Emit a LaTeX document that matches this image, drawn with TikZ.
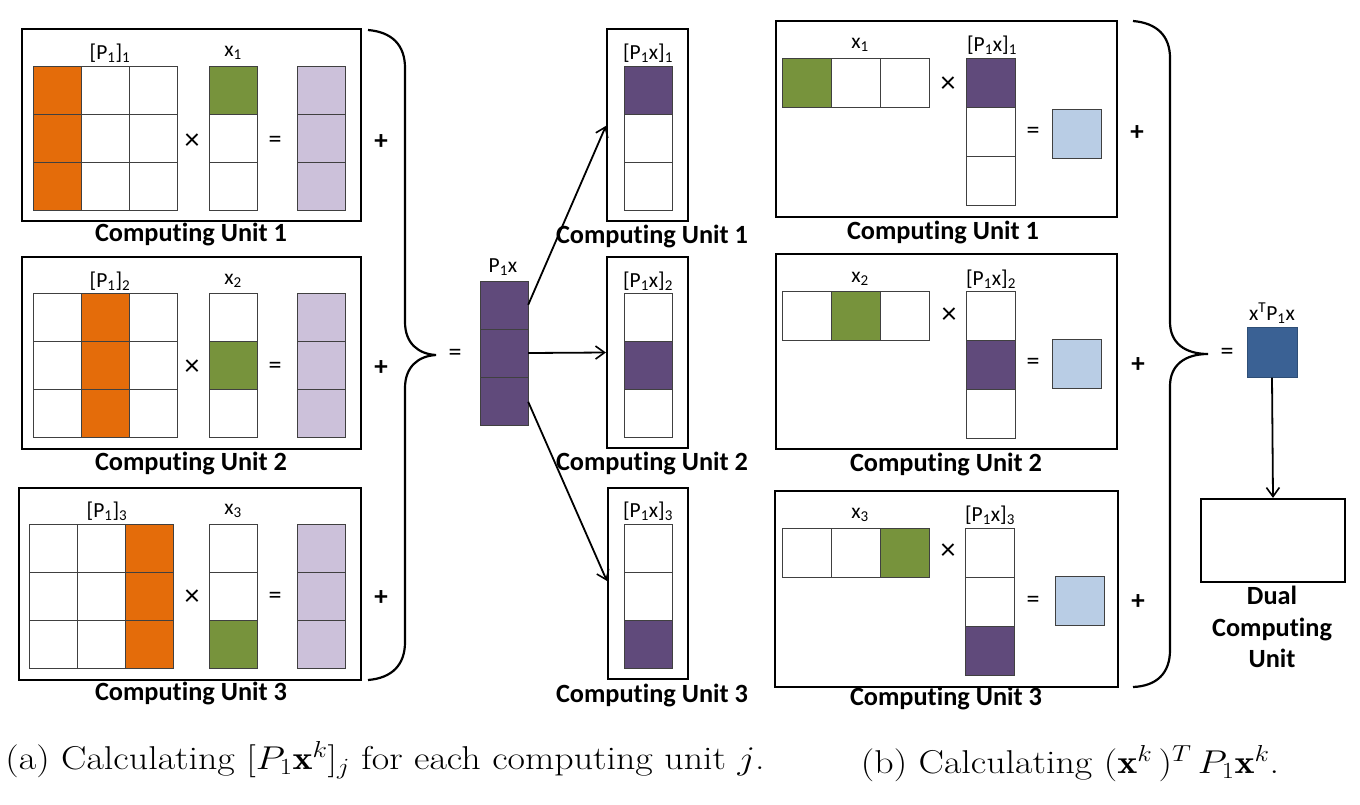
\RequirePackage{fix-cm}
\documentclass[tikz,border=0pt]{standalone}
\usepackage{fontspec}
\newfontfamily\carl[Ligatures=NoCommon]{Carlito}
\usetikzlibrary{arrows.meta}
\definecolor{cor}{HTML}{E46C0A}
\definecolor{cgr}{HTML}{77933C}
\definecolor{cpu}{HTML}{604A7B}
\definecolor{clp}{HTML}{CCC1DA}
\definecolor{clb}{HTML}{B9CDE5}
\definecolor{cdb}{HTML}{3A6194}
\newcommand{\mycol}[6]{%
  \filldraw[cell,fill=#4] (#1,#2) rectangle ++(#3,#3);
  \filldraw[cell,fill=#5] (#1,#2+#3) rectangle ++(#3,#3);
  \filldraw[cell,fill=#6] (#1,#2+2*#3) rectangle ++(#3,#3);}
\newcommand{\myrow}[6]{%
  \filldraw[cell,fill=#4] (#1,#2) rectangle ++(#3,#3);
  \filldraw[cell,fill=#5] (#1+#3,#2) rectangle ++(#3,#3);
  \filldraw[cell,fill=#6] (#1+2*#3,#2) rectangle ++(#3,#3);}
\begin{document}
\begin{tikzpicture}[x=1pt,y=-1pt,
  cell/.style={draw=black!75,line width=1pt},
  unitbox/.style={draw,line width=2.2pt,inner sep=0pt,fill=none},
  lab/.style={font=\carl\fontsize{21.5}{24}\selectfont,inner sep=0pt},
  op/.style={font=\carl\fontsize{26}{28}\selectfont,inner sep=0pt},
  times/.style={font=\carl\fontsize{30}{32}\selectfont,inner sep=0pt},
  plus/.style={font=\carl\bfseries\fontsize{27}{29}\selectfont,inner sep=0pt},
  cu/.style={font=\carl\bfseries\fontsize{26.3}{30}\selectfont,inner sep=0pt},
  arr/.style={-{Straight Barb[length=9pt,width=13pt,line width=1.6pt]},line width=1.8pt},
  brace/.style={line width=2.2pt},
  captxt/.style={font=\fontsize{33}{40}\selectfont,inner sep=0pt}]
\useasboundingbox (0,0) rectangle (1360,804);

% ===== Panel (a), left column =====
\node[unitbox,minimum width=339pt,minimum height=192pt] (a1) at (191.5,125) {};
\node[unitbox,minimum width=339pt,minimum height=192pt] (a2) at (191.5,353) {};
\node[unitbox,minimum width=342pt,minimum height=192pt] (a3) at (190,584) {};

% unit 1
\mycol{33}{66}{48}{cor}{cor}{cor}
\mycol{81}{66}{48}{white}{white}{white}
\mycol{129}{66}{48}{white}{white}{white}
\mycol{209}{66}{48}{cgr}{white}{white}
\mycol{297}{66}{48}{clp}{clp}{clp}
\node[lab] (a1p) at (110,53) {[P\textsubscript{1}]\textsubscript{1}};
\node[lab] (a1x) at (233,53) {x\textsubscript{1}};
\node[times] (a1t) at (192,142) {×};
\node[op] (a1e) at (275,142) {=};
\node[plus] (a1s) at (381,142) {+};
\node[cu] (a1c) at (191,234) {Computing Unit 1};

% unit 2
\mycol{33}{293}{48}{white}{white}{white}
\mycol{81}{293}{48}{cor}{cor}{cor}
\mycol{129}{293}{48}{white}{white}{white}
\mycol{209}{293}{48}{white}{cgr}{white}
\mycol{297}{293}{48}{clp}{clp}{clp}
\node[lab] (a2p) at (110,281) {[P\textsubscript{1}]\textsubscript{2}};
\node[lab] (a2x) at (233,281) {x\textsubscript{2}};
\node[times] (a2t) at (192,368) {×};
\node[op] (a2e) at (275,368) {=};
\node[plus] (a2s) at (381,368) {+};
\node[cu] (a2c) at (191,463) {Computing Unit 2};

% unit 3
\mycol{29}{524}{48}{white}{white}{white}
\mycol{77}{524}{48}{white}{white}{white}
\mycol{125}{524}{48}{cor}{cor}{cor}
\mycol{209}{524}{48}{white}{white}{cgr}
\mycol{297}{524}{48}{clp}{clp}{clp}
\node[lab] (a3p) at (107,511) {[P\textsubscript{1}]\textsubscript{3}};
\node[lab] (a3x) at (233,511) {x\textsubscript{3}};
\node[times] (a3t) at (192,598) {×};
\node[op] (a3e) at (275,598) {=};
\node[plus] (a3s) at (381,598) {+};
\node[cu] (a3c) at (191,693) {Computing Unit 3};

% left brace
\draw[brace] (368,30) .. controls (392,32) and (405,45) .. (405,68) -- (405,322)
  .. controls (405,343) and (418,354) .. (436,355)
  .. controls (418,356) and (405,367) .. (405,388) -- (405,642)
  .. controls (405,665) and (392,678) .. (368,680);
\node[op] (aeq) at (455,355) {=};

% P1x vector
\node[inner sep=0pt,minimum width=48pt,minimum height=144pt] (pv) at (504,353) {};
\mycol{480}{281}{48}{cpu}{cpu}{cpu}
\node[lab] (pvl) at (503,267) {P\textsubscript{1}x};

% middle column
\node[unitbox,minimum width=81pt,minimum height=192pt] (m1) at (647.5,125) {};
\node[unitbox,minimum width=81pt,minimum height=191pt] (m2) at (647.5,352.5) {};
\node[unitbox,minimum width=80pt,minimum height=191pt] (m3) at (648,583.5) {};
\mycol{624}{66}{48}{cpu}{white}{white}
\mycol{624}{293}{48}{white}{cpu}{white}
\mycol{624}{524}{48}{white}{white}{cpu}
\node[lab] (m1l) at (648,53) {[P\textsubscript{1}x]\textsubscript{1}};
\node[lab] (m2l) at (648,281) {[P\textsubscript{1}x]\textsubscript{2}};
\node[lab] (m3l) at (648,511) {[P\textsubscript{1}x]\textsubscript{3}};
\node[cu] (m1c) at (652,236) {Computing Unit 1};
\node[cu] (m2c) at (652,463) {Computing Unit 2};
\node[cu] (m3c) at (652,695) {Computing Unit 3};

\draw[arr] ([yshift=-24pt]pv.north east) -- ([yshift=-98pt]m1.north west);
\draw[arr] (pv.east) -- (m2.west);
\draw[arr] ([yshift=-121pt]pv.north east) -- ([yshift=-94pt]m3.north west);

% ===== Panel (b) =====
\node[unitbox,minimum width=341pt,minimum height=196pt] (b1) at (946.5,119) {};
\node[unitbox,minimum width=341pt,minimum height=195pt] (b2) at (946.5,351.5) {};
\node[unitbox,minimum width=343pt,minimum height=196pt] (b3) at (946.5,589) {};

\myrow{782}{58}{49}{cgr}{white}{white}
\mycol{966}{58}{49}{cpu}{white}{white}
\filldraw[cell,fill=clb] (1052,109) rectangle ++(49,49);
\node[lab] (b1x) at (860,45) {x\textsubscript{1}};
\node[lab] (b1l) at (992,45) {[P\textsubscript{1}x]\textsubscript{1}};
\node[times] (b1t) at (948,85) {×};
\node[op] (b1e) at (1033,133) {=};
\node[plus] (b1s) at (1137,133) {+};
\node[cu] (b1c) at (943,232) {Computing Unit 1};

\myrow{782}{291}{49}{white}{cgr}{white}
\mycol{966}{291}{49}{white}{cpu}{white}
\filldraw[cell,fill=clb] (1052,339) rectangle ++(49,49);
\node[lab] (b2x) at (860,279) {x\textsubscript{2}};
\node[lab] (b2l) at (991,279) {[P\textsubscript{1}x]\textsubscript{2}};
\node[times] (b2t) at (949,316) {×};
\node[op] (b2e) at (1033,364) {=};
\node[plus] (b2s) at (1138,365) {+};
\node[cu] (b2c) at (946,464) {Computing Unit 2};

\myrow{782}{528}{49}{white}{white}{cgr}
\mycol{965}{528}{49}{white}{white}{cpu}
\filldraw[cell,fill=clb] (1055,576) rectangle ++(49,49);
\node[lab] (b3x) at (860,515) {x\textsubscript{3}};
\node[lab] (b3l) at (990,515) {[P\textsubscript{1}x]\textsubscript{3}};
\node[times] (b3t) at (948,552) {×};
\node[op] (b3e) at (1033,602) {=};
\node[plus] (b3s) at (1138,602) {+};
\node[cu] (b3c) at (946,698) {Computing Unit 3};

% right brace
\draw[brace] (1133,21) .. controls (1157,23) and (1170,36) .. (1170,58) -- (1170,322)
  .. controls (1170,343) and (1185,354) .. (1208,354)
  .. controls (1185,354) and (1170,365) .. (1170,386) -- (1170,650)
  .. controls (1170,673) and (1157,686) .. (1133,687);
\node[op] (beq) at (1227,354) {=};

\node[draw=cdb!80!black,fill=cdb,line width=1pt,minimum width=50pt,minimum height=50pt,inner sep=0pt] (xtp) at (1272,352) {};
\node[lab] (xtpl) at (1272,313) {x\textsuperscript{T}P\textsubscript{1}x};
\node[unitbox,minimum width=144pt,minimum height=83pt] (dual) at (1273,540.5) {};
\node[cu,align=center,font=\carl\bfseries\fontsize{26.3}{31.5}\selectfont] (dualt) at (1272,627) {Dual\\Computing\\Unit};
\draw[arr] (xtp.south) -- (dual.north);

% captions
\node[captxt] (capa) at (385,760) {\scalebox{1.15}[1]{(a) Calculating [$P_1\mathbf{x}^k$]$_j$ for each computing unit $j$.}};
\node[captxt] (capb) at (1070,764) {\scalebox{1.15}[1]{(b) Calculating ($\mathbf{x}^k$\,)$^T\,P_1\mathbf{x}^k$.}};
\end{tikzpicture}
\end{document}
